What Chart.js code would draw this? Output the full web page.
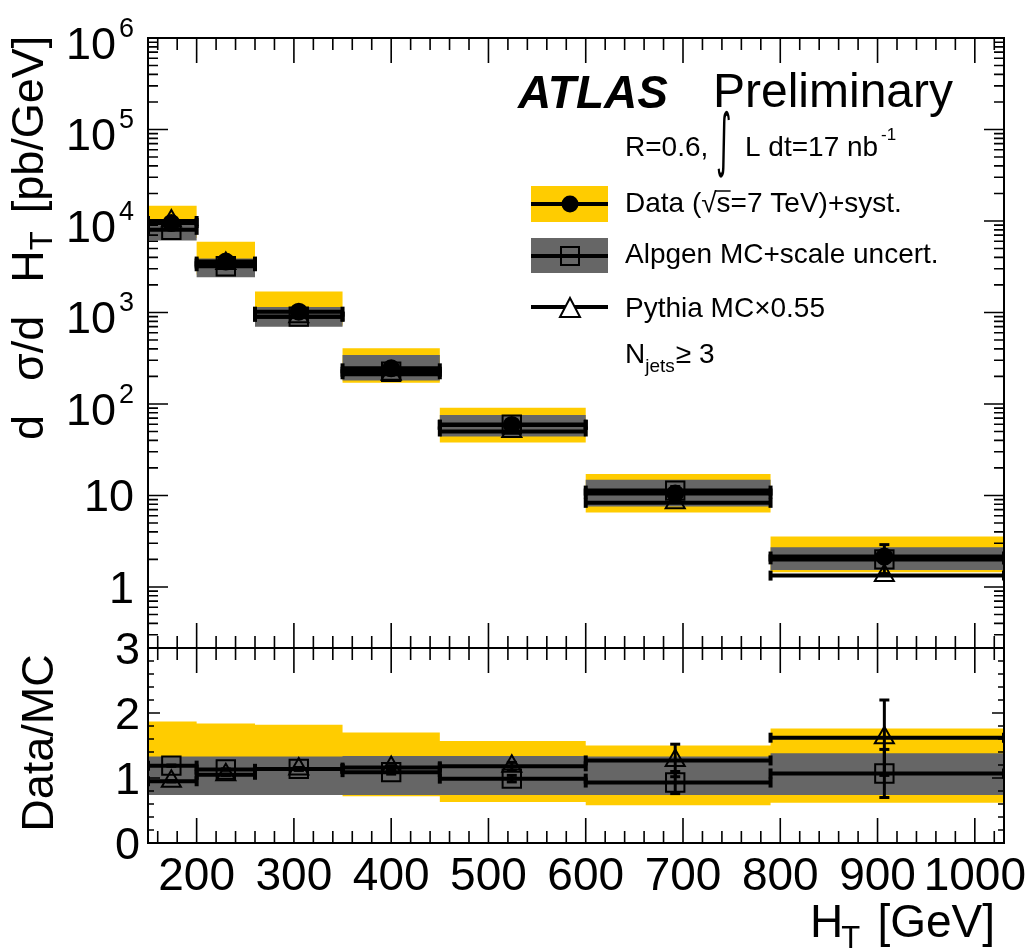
<!DOCTYPE html>
<html>
<head>
<meta charset="utf-8">
<script src="https://cdn.jsdelivr.net/npm/chart.js@4.4.0/dist/chart.umd.min.js"></script>
<style>
  html, body { margin: 0; padding: 0; background: #fff; }
</style>
</head>
<body>
<canvas id="htChart" width="1034" height="950"></canvas>
<script>
// H_T binning [GeV]
const binEdges = [150, 200, 260, 350, 450, 600, 790, 1030];
const binCenters = [174, 230, 305, 400, 524, 692, 907];

// upper pad: d sigma / d H_T [pb/GeV]
const dataXsec = [9500, 3600, 1020, 245, 59, 10.5, 2.15];
const dataStatErr = [90, 40, 15, 5, 2, 2.0, 0.75];
const dataSystLow = [6500, 2600, 720, 171, 37.8, 6.5, 1.45];
const dataSystHigh = [14700, 5940, 1690, 406, 91, 17.2, 3.55];
const alpgenXsec = [8000, 3200, 900, 225, 59.5, 11.3, 2.0];
const alpgenScaleLow = [6100, 2425, 700, 180, 44, 7.55, 1.53];
const alpgenScaleHigh = [9500, 3900, 1150, 343, 75.6, 14.8, 2.72];
const pythiaXsec = [10000, 3430, 900, 211, 50, 8.3, 1.33];

// lower pad: Data/MC
const ratioAlpgen = [1.19, 1.13, 1.14, 1.09, 0.99, 0.93, 1.07];
const ratioAlpgenErr = [0.01, 0.01, 0.02, 0.03, 0.05, 0.17, 0.37];
const ratioPythia = [0.95, 1.05, 1.14, 1.16, 1.18, 1.27, 1.62];
const ratioPythiaErr = [0.01, 0.01, 0.02, 0.03, 0.06, 0.25, 0.58];
const ratioSystLow = [0.75, 0.75, 0.75, 0.72, 0.63, 0.58, 0.62];
const ratioSystHigh = [1.87, 1.84, 1.82, 1.70, 1.57, 1.50, 1.76];
const ratioScaleLow = [0.74, 0.74, 0.74, 0.74, 0.74, 0.74, 0.74];
const ratioScaleHigh = [1.33, 1.33, 1.33, 1.34, 1.34, 1.33, 1.38];

// tick labels
const xTicks = [200, 300, 400, 500, 600, 700, 800, 900, 1000];
const logTicks = [1, 10, 100, 1000, 10000, 100000, 1000000];
const ratioTicks = [0, 1, 2, 3];

const FONT = "'Liberation Sans', Arial, Helvetica, sans-serif";
const YELLOW = '#ffcc00';
const GREY = '#666666';

// stepped outline over the bins (last bin repeated at the right edge)
function stepPoints(vals) {
    const pts = vals.map((v, i) => ({x: binEdges[i], y: v}));
    pts.push({x: binEdges[binEdges.length - 1], y: vals[vals.length - 1]});
    return pts;
}
// one horizontal segment per bin, broken by nulls
function hbarPoints(vals) {
    const pts = [];
    vals.forEach((v, i) => {
        pts.push({x: binEdges[i], y: v}, {x: binEdges[i + 1], y: v}, {x: binEdges[i + 1], y: null});
    });
    return pts;
}
function vbarPoints(vals, errs) {
    const pts = [];
    vals.forEach((v, i) => {
        pts.push({x: binCenters[i], y: v - errs[i]}, {x: binCenters[i], y: v + errs[i]}, {x: binCenters[i], y: null});
    });
    return pts;
}
function markerPoints(vals) {
    return vals.map((v, i) => ({x: binCenters[i], y: v}));
}

const datasets = [];
function addBand(lo, hi, axis, color, ord) {
    datasets.push({data: stepPoints(hi), yAxisID: axis, stepped: 'before', borderColor: 'rgba(0,0,0,0)',
        borderWidth: 1, pointRadius: 0, fill: '+1', backgroundColor: color, order: ord});
    datasets.push({data: stepPoints(lo), yAxisID: axis, stepped: 'before', borderColor: 'rgba(0,0,0,0)',
        borderWidth: 1, pointRadius: 0, fill: false, order: ord + 1});
}
function addHLine(vals, axis, width) {
    datasets.push({data: hbarPoints(vals), yAxisID: axis, borderColor: '#000', borderWidth: width,
        pointStyle: 'line', pointRotation: 90, pointRadius: 5, pointBorderWidth: width,
        pointBorderColor: '#000', fill: false, spanGaps: false, order: 20});
}
function addVLine(vals, errs, axis) {
    datasets.push({data: vbarPoints(vals, errs), yAxisID: axis, borderColor: '#000', borderWidth: 3,
        pointStyle: 'line', pointRotation: 0, pointRadius: 5, pointBorderWidth: 3,
        pointBorderColor: '#000', fill: false, spanGaps: false, order: 15});
}
function addMarkers(vals, axis, style, radius, filled, ord) {
    datasets.push({data: markerPoints(vals), yAxisID: axis, showLine: false, pointStyle: style,
        pointRadius: radius, pointBorderWidth: 2, pointBorderColor: '#000',
        pointBackgroundColor: filled ? '#000' : 'rgba(0,0,0,0)', order: ord});
}

// upper pad
addBand(dataSystLow, dataSystHigh, 'y', YELLOW, 30);
addBand(alpgenScaleLow, alpgenScaleHigh, 'y', GREY, 28);
addHLine(pythiaXsec, 'y', 4);
addHLine(alpgenXsec, 'y', 4);
addHLine(dataXsec, 'y', 4);
addVLine(dataXsec, dataStatErr, 'y');
addMarkers(pythiaXsec, 'y', 'triangle', 11, false, 12);
addMarkers(alpgenXsec, 'y', 'rect', 13, false, 11);
addMarkers(dataXsec, 'y', 'circle', 8, true, 10);

// lower pad
addBand(ratioSystLow, ratioSystHigh, 'yr', YELLOW, 30);
addBand(ratioScaleLow, ratioScaleHigh, 'yr', GREY, 28);
addHLine(ratioPythia, 'yr', 4);
addHLine(ratioAlpgen, 'yr', 4);
addVLine(ratioPythia, ratioPythiaErr, 'yr');
addVLine(ratioAlpgen, ratioAlpgenErr, 'yr');
addMarkers(ratioPythia, 'yr', 'triangle', 11, false, 12);
addMarkers(ratioAlpgen, 'yr', 'rect', 13, false, 11);

// ROOT-like frame, inward ticks, labels and legend
const rootStyle = {
    id: 'rootStyle',
    beforeDraw(chart) {
        const ctx = chart.ctx;
        ctx.save();
        ctx.fillStyle = '#fff';
        ctx.fillRect(0, 0, chart.width, chart.height);
        ctx.restore();
    },
    afterDatasetsDraw(chart) {
        const {ctx, chartArea: area} = chart;
        const sx = chart.scales.x, sy = chart.scales.y, sr = chart.scales.yr;
        ctx.save();
        ctx.strokeStyle = '#000';
        ctx.lineWidth = 2;
        [sy, sr].forEach(s => ctx.strokeRect(area.left, s.top, area.right - area.left, s.bottom - s.top));
        ctx.lineWidth = 1.6;
        ctx.beginPath();
        for (let v = 160; v < sx.max; v += 20) {
            const px = sx.getPixelForValue(v);
            const len = v % 100 === 0 ? 25 : 12;
            [sy, sr].forEach(s => {
                ctx.moveTo(px, s.top); ctx.lineTo(px, s.top + len);
                ctx.moveTo(px, s.bottom); ctx.lineTo(px, s.bottom - len);
            });
        }
        for (let k = -1; k <= 6; k++) {
            for (let m = 1; m <= 9; m++) {
                const v = m * Math.pow(10, k);
                if (v < sy.min || v > sy.max) continue;
                const py = sy.getPixelForValue(v);
                const len = m === 1 ? 20 : 10;
                ctx.moveTo(area.left, py); ctx.lineTo(area.left + len, py);
                ctx.moveTo(area.right, py); ctx.lineTo(area.right - len, py);
            }
        }
        for (let i = 0; i <= 15; i++) {
            const py = sr.getPixelForValue(i * 0.2);
            const len = i % 5 === 0 ? 12 : 6;
            ctx.moveTo(area.left, py); ctx.lineTo(area.left + len, py);
            ctx.moveTo(area.right, py); ctx.lineTo(area.right - len, py);
        }
        ctx.stroke();
        ctx.restore();
    },
    afterDraw(chart) {
        const ctx = chart.ctx;
        const sx = chart.scales.x, sy = chart.scales.y, sr = chart.scales.yr;
        ctx.save();
        ctx.fillStyle = '#000';
        ctx.strokeStyle = '#000';
        ctx.textBaseline = 'alphabetic';

        // x tick labels
        ctx.font = `46px ${FONT}`;
        ctx.textAlign = 'center';
        xTicks.forEach(v => ctx.fillText(String(v), sx.getPixelForValue(v), 890));

        // log y labels
        ctx.textAlign = 'right';
        logTicks.forEach(v => {
            const py = sy.getPixelForValue(v);
            const k = Math.round(Math.log10(v));
            if (k <= 1) {
                ctx.font = `45px ${FONT}`;
                ctx.fillText(String(v), 134, py + 16);
            } else {
                ctx.font = `27px ${FONT}`;
                const ew = ctx.measureText(String(k)).width;
                ctx.fillText(String(k), 134, py - 1);
                ctx.font = `45px ${FONT}`;
                ctx.fillText('10', 134 - ew - 3, py + 21);
            }
        });
        // ratio labels
        ctx.font = `45px ${FONT}`;
        ratioTicks.forEach(v => ctx.fillText(String(v), 140, sr.getPixelForValue(v) + 16));

        // y title, upper pad
        ctx.save();
        ctx.translate(43, 0);
        ctx.rotate(-Math.PI / 2);
        ctx.textAlign = 'left';
        let cur = -440;
        ctx.font = `45px ${FONT}`;
        ctx.fillText('d', cur, 0); cur += ctx.measureText('d').width + 34;
        ctx.fillText('σ/d', cur, 0); cur += ctx.measureText('σ/d').width + 33;
        ctx.fillText('H', cur, 0); cur += ctx.measureText('H').width;
        ctx.font = `31px ${FONT}`;
        ctx.fillText('T', cur, 9); cur += ctx.measureText('T').width + 18;
        ctx.font = `45px ${FONT}`;
        ctx.fillText('[pb/GeV]', cur, 0);
        ctx.restore();

        // y title, lower pad
        ctx.save();
        ctx.translate(53, 743);
        ctx.rotate(-Math.PI / 2);
        ctx.textAlign = 'center';
        ctx.font = `45px ${FONT}`;
        ctx.fillText('Data/MC', 0, 0);
        ctx.restore();

        // x title
        ctx.textAlign = 'left';
        ctx.font = `46px ${FONT}`;
        ctx.fillText('H', 810, 937);
        let hx = 810 + ctx.measureText('H').width;
        ctx.font = `31px ${FONT}`;
        ctx.fillText('T', hx - 2, 948);
        ctx.font = `46px ${FONT}`;
        ctx.textAlign = 'right';
        ctx.fillText('[GeV]', 995, 937);

        // ATLAS Preliminary
        ctx.textAlign = 'left';
        ctx.font = `italic bold 46px ${FONT}`;
        ctx.fillText('ATLAS', 518, 108);
        ctx.font = `48px ${FONT}`;
        ctx.fillText('Preliminary', 713, 107);

        // R=0.6, integral L dt = 17 nb^-1
        ctx.font = `28px ${FONT}`;
        ctx.fillText('R=0.6,', 625, 156);
        ctx.save();
        ctx.translate(716, 163);
        ctx.scale(1, 2.3);
        ctx.font = `30px 'DejaVu Sans', ${FONT}`;
        ctx.fillText('∫', 0, 0);
        ctx.restore();
        ctx.font = `28px ${FONT}`;
        ctx.fillText('L dt=17 nb', 745, 156);
        ctx.font = `17px ${FONT}`;
        ctx.fillText('-1', 881, 140);

        // legend
        const lx0 = 531, lx1 = 608, mx = 570;
        ctx.fillStyle = YELLOW;
        ctx.fillRect(lx0, 186, lx1 - lx0, 36);
        ctx.fillStyle = GREY;
        ctx.fillRect(lx0, 238, lx1 - lx0, 35);
        ctx.fillStyle = '#000';
        ctx.lineWidth = 4;
        ctx.beginPath();
        [204, 256, 307].forEach(y => { ctx.moveTo(lx0, y); ctx.lineTo(lx1, y); });
        ctx.stroke();
        ctx.beginPath();
        ctx.arc(mx, 204, 8.5, 0, Math.PI * 2);
        ctx.fill();
        ctx.lineWidth = 2;
        ctx.strokeRect(mx - 9, 247, 18, 18);
        ctx.beginPath();
        ctx.moveTo(mx, 298); ctx.lineTo(mx + 10, 317); ctx.lineTo(mx - 10, 317); ctx.closePath();
        ctx.fillStyle = '#fff';
        ctx.fill();
        ctx.stroke();
        ctx.fillStyle = '#000';

        ctx.font = `28px ${FONT}`;
        ctx.fillText('Data (√s=7 TeV)+syst.', 625, 212);
        const sx0 = 625 + ctx.measureText('Data (√').width;
        const sw = ctx.measureText('s').width;
        ctx.lineWidth = 1.5;
        ctx.beginPath();
        ctx.moveTo(sx0 - 1, 191); ctx.lineTo(sx0 + sw, 191);
        ctx.stroke();
        ctx.fillText('Alpgen MC+scale uncert.', 625, 263);
        ctx.fillText('Pythia MC×0.55', 625, 317);
        ctx.fillText('N', 625, 363);
        const nw = ctx.measureText('N').width;
        ctx.font = `19px ${FONT}`;
        ctx.fillText('jets', 625 + nw, 372);
        const jw = ctx.measureText('jets').width;
        ctx.font = `28px ${FONT}`;
        ctx.fillText('≥ 3', 625 + nw + jw + 1, 363);
        ctx.restore();
    }
};

new Chart(document.getElementById('htChart'), {
    type: 'line',
    data: {datasets: datasets},
    plugins: [rootStyle],
    options: {
        responsive: false,
        animation: false,
        devicePixelRatio: 1,
        layout: {padding: {left: 148, right: 30, top: 38, bottom: 107}},
        plugins: {legend: {display: false}, tooltip: {enabled: false}},
        scales: {
            x: {type: 'linear', min: 150, max: 1030, bounds: 'data', display: false},
            // stacked pads: the later one in this list ends up on top
            yr: {type: 'linear', min: 0, max: 3, bounds: 'data', display: false,
                stack: 'pads', stackWeight: 195},
            y: {type: 'logarithmic', min: 0.215, max: 1e6, bounds: 'data', display: false,
                stack: 'pads', stackWeight: 610}
        }
    }
});
</script>
</body>
</html>
